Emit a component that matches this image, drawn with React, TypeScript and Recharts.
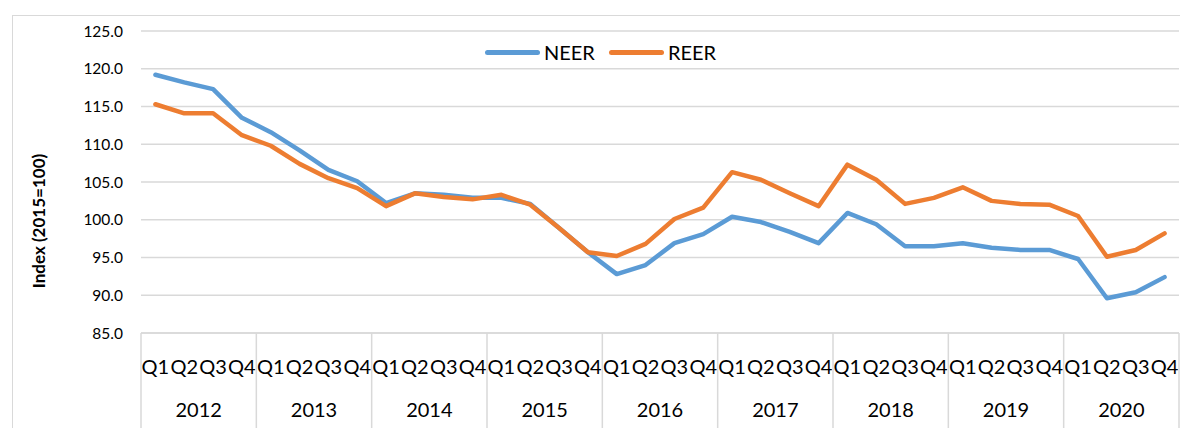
import { LineChart, Line, XAxis, YAxis, CartesianGrid } from 'recharts';

const YEARS = [2012, 2013, 2014, 2015, 2016, 2017, 2018, 2019, 2020];
const QUARTERS = ['Q1', 'Q2', 'Q3', 'Q4'];

// quarterly index values, 2012Q1 .. 2020Q4
const NEER = [
  119.2, 118.2, 117.3, 113.5,
  111.6, 109.2, 106.6, 105.1,
  102.2, 103.5, 103.3, 102.9,
  102.9, 102.1, 98.9, 95.7,
  92.8, 94.0, 96.9, 98.1,
  100.4, 99.7, 98.4, 96.9,
  100.9, 99.4, 96.5, 96.5,
  96.9, 96.3, 96.0, 96.0,
  94.8, 89.6, 90.4, 92.4,
];
const REER = [
  115.3, 114.1, 114.1, 111.2,
  109.8, 107.4, 105.5, 104.2,
  101.8, 103.5, 103.0, 102.7,
  103.3, 102.0, 98.9, 95.7,
  95.2, 96.8, 100.1, 101.6,
  106.3, 105.3, 103.5, 101.8,
  107.3, 105.3, 102.1, 102.9,
  104.3, 102.5, 102.1, 102.0,
  100.5, 95.1, 96.0, 98.2,
];
const Y_TICKS = [85, 90, 95, 100, 105, 110, 115, 120, 125];

const data = YEARS.flatMap((year, yi) =>
  QUARTERS.map((quarter, qi) => ({
    period: `${year} ${quarter}`,
    year,
    quarter,
    NEER: NEER[yi * 4 + qi],
    REER: REER[yi * 4 + qi],
  }))
);
const byPeriod = new Map(data.map((d, i) => [d.period, { ...d, i }]));

const FONT = 'Lato, "Open Sans", sans-serif';
const BLUE = '#5B9BD5';
const ORANGE = '#ED7D31';
const GRID = '#d9d9d9';

const CHART_W = 1190;
const CHART_H = 430;
const MARGIN = { top: 15, right: 24, bottom: 0, left: 0 };
const Y_AXIS_W = 128;
const X_AXIS_H = 113;
const STEP = (CHART_W - MARGIN.right - Y_AXIS_W) / data.length;

// two-level category axis: quarter row, year row, year dividers
function QuarterTick(props: any) {
  const { x, y, payload } = props;
  const row = byPeriod.get(payload.value);
  if (!row) return null;
  const isFirst = row.quarter === 'Q1';
  const isLast = row.i === data.length - 1;
  return (
    <g>
      <text
        x={x}
        y={y + 34}
        dy="0.35em"
        textAnchor="middle"
        fontFamily={FONT}
        fontSize={20}
        fill="#000"
      >
        {row.quarter}
      </text>
      {isFirst && (
        <>
          <line x1={x - STEP / 2} x2={x - STEP / 2} y1={y} y2={y + 120} stroke={GRID} strokeWidth={1.5} />
          <text
            x={x + STEP * 1.5}
            y={y + 77}
            dy="0.35em"
            textAnchor="middle"
            fontFamily={FONT}
            fontSize={20}
            fill="#000"
          >
            {row.year}
          </text>
        </>
      )}
      {isLast && (
        <line x1={x + STEP / 2} x2={x + STEP / 2} y1={y} y2={y + 120} stroke={GRID} strokeWidth={1.5} />
      )}
    </g>
  );
}

function YTitle() {
  return (
    <text
      x={25}
      y={205}
      transform="rotate(-90, 25, 205)"
      textAnchor="middle"
      dominantBaseline="central"
      fontFamily={FONT}
      fontWeight="bold"
      fontSize={17}
      fill="#000"
    >
      Index (2015=100)
    </text>
  );
}

function LegendBox() {
  const item = (color: string, label: string) => (
    <div style={{ display: 'flex', alignItems: 'center', marginRight: 14 }}>
      <div style={{ width: 55, height: 5, borderRadius: 3, background: color, marginRight: 4 }} />
      <span style={{ fontFamily: FONT, fontSize: 20, color: '#000' }}>{label}</span>
    </div>
  );
  return (
    <div
      style={{
        position: 'absolute',
        left: 472,
        top: 24,
        display: 'flex',
        alignItems: 'center',
      }}
    >
      {item(BLUE, 'NEER')}
      {item(ORANGE, 'REER')}
    </div>
  );
}

export default function App() {
  return (
    <div
      style={{
        position: 'fixed',
        left: 0,
        top: 0,
        width: 1180,
        height: 428,
        overflow: 'hidden',
        background: '#fff',
      }}
    >
      <div
        style={{
          position: 'absolute',
          left: 12,
          top: 15,
          width: 1200,
          height: 440,
          border: `1px solid ${GRID}`,
        }}
      >
        <div style={{ position: 'relative', width: CHART_W, height: CHART_H }}>
          <LineChart width={CHART_W} height={CHART_H} data={data} margin={MARGIN}>
            <CartesianGrid vertical={false} stroke={GRID} strokeWidth={1.5} />
            <XAxis
              dataKey="period"
              interval={0}
              height={X_AXIS_H}
              tickLine={false}
              tickSize={0}
              tickMargin={0}
              axisLine={{ stroke: GRID, strokeWidth: 1.5 }}
              padding={{ left: STEP / 2, right: STEP / 2 }}
              tick={<QuarterTick />}
            />
            <YAxis
              width={Y_AXIS_W}
              domain={[85, 125]}
              ticks={Y_TICKS}
              interval={0}
              axisLine={false}
              tickLine={false}
              tickSize={0}
              tickMargin={18}
              tickFormatter={(v: number) => v.toFixed(1)}
              tick={{ fontFamily: FONT, fontSize: 15.5, fill: '#000' }}
              label={{ content: () => <YTitle /> }}
            />
            <Line
              dataKey="NEER"
              stroke={BLUE}
              strokeWidth={4.5}
              dot={false}
              strokeLinejoin="round"
              strokeLinecap="round"
              isAnimationActive={false}
            />
            <Line
              dataKey="REER"
              stroke={ORANGE}
              strokeWidth={4.5}
              dot={false}
              strokeLinejoin="round"
              strokeLinecap="round"
              isAnimationActive={false}
            />
          </LineChart>
          <LegendBox />
        </div>
      </div>
    </div>
  );
}
